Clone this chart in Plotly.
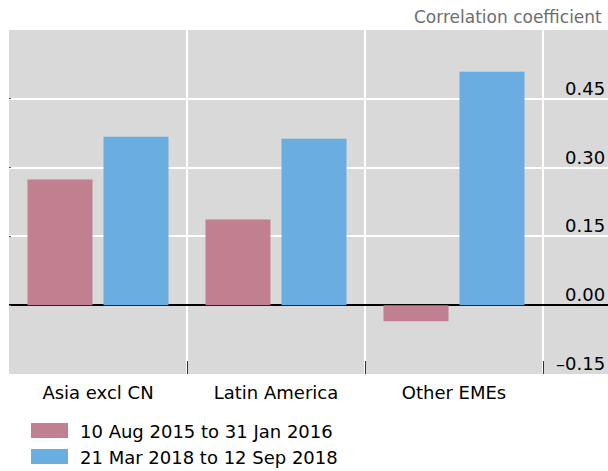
#!/usr/bin/env python
"""
Correlation coefficient bar chart, two periods by EME region
"""

import plotly.graph_objs as go

# data
regions = ["Asia excl CN", "Latin America", "Other EMEs"]
series_names = ["10 Aug 2015 to 31 Jan 2016", "21 Mar 2018 to 12 Sep 2018"]
period_2015 = [0.274, 0.187, -0.035]
period_2018 = [0.367, 0.363, 0.509]
series_colors = ["#C0808F", "#6AADE0"]
y_ticks = [-0.15, 0.0, 0.15, 0.30, 0.45]
y_tick_labels = ["\u20130.15", "0.00", "0.15", "0.30", "0.45"]
unit_label = "Correlation coefficient"

W, H = 608, 471
L, R, T, B = 9, 0, 30, 97
FONT = "DejaVu Sans"


def px_x(px):
    """pixel x -> paper x"""
    return (px - L) / (W - L - R)


def px_y(py):
    """pixel y -> paper y"""
    return (H - B - py) / (H - T - B)


fig = go.Figure()
for name, vals, col in zip(series_names, [period_2015, period_2018], series_colors):
    fig.add_trace(go.Bar(x=regions, y=vals, name=name,
                         marker=dict(color=col, line=dict(width=0))))

# plot spans beyond the last category so the tick labels sit on grey
cat_px = 178.0
x_hi = -0.5 + (W - L - R) / cat_px

fig.update_layout(
    width=W, height=H,
    margin=dict(l=L, r=R, t=T, b=B),
    paper_bgcolor="white",
    plot_bgcolor="#D9D9D9",
    barmode="group",
    bargap=0.146,
    bargroupgap=0.145,
    showlegend=False,
    font=dict(family=FONT, size=18, color="#000000"),
)
fig.update_xaxes(
    type="category", range=[-0.5, x_hi],
    tickson="boundaries", ticks="inside", ticklen=13, tickwidth=1.2,
    tickcolor="#333333",
    showgrid=True, gridcolor="white", gridwidth=1.5,
    showline=False, zeroline=False,
    tickfont=dict(family=FONT, size=18, color="#000000"),
    ticklabelstandoff=6,
)
fig.update_yaxes(
    range=[-0.15, 0.6], tick0=0, dtick=0.15,
    showgrid=True, gridcolor="white", gridwidth=1.5,
    zeroline=True, zerolinecolor="#000000", zerolinewidth=1.5,
    showticklabels=False, ticks="inside", ticklen=2, tickcolor="#555555",
    showline=False,
)

# right-hand tick labels sitting just above their gridlines
for val, lab in zip(y_ticks, y_tick_labels):
    fig.add_annotation(x=1, xref="paper", xanchor="right", xshift=-1,
                       y=val, yref="y", yanchor="bottom", yshift=-2,
                       text=lab, showarrow=False,
                       font=dict(family=FONT, size=18, color="#000000"))

fig.add_annotation(x=px_x(412), xref="paper", xanchor="left",
                   y=px_y(17), yref="paper", yanchor="middle",
                   text=unit_label, showarrow=False,
                   font=dict(family=FONT, size=17, color="#6E6E6E"))

# legend drawn by hand to get the wide swatches
legend_rows = [430.5, 456.5]
for name, col, cy in zip(series_names, series_colors, legend_rows):
    fig.add_shape(type="rect", xref="paper", yref="paper",
                  x0=px_x(31), x1=px_x(68), y0=px_y(cy - 7.5), y1=px_y(cy + 7.5),
                  fillcolor=col, line=dict(width=0))
    fig.add_annotation(x=px_x(78), xref="paper", xanchor="left",
                       y=px_y(cy + 1), yref="paper", yanchor="middle",
                       text=name, showarrow=False,
                       font=dict(family=FONT, size=18, color="#000000"))

fig.write_html("out.html",
               config={"displayModeBar": False},
               post_script="document.body.style.margin='0';"
                           "document.body.style.overflow='hidden';")
